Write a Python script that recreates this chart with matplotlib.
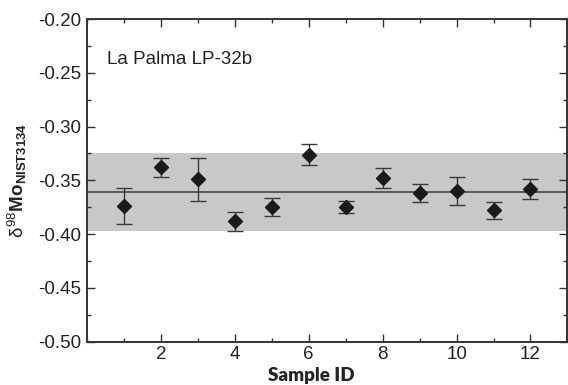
import matplotlib.pyplot as plt
from matplotlib.ticker import MultipleLocator, FixedLocator

# data
sample_id = [1, 2, 3, 4, 5, 6, 7, 8, 9, 10, 11, 12]
d98mo = [-0.374, -0.338, -0.349, -0.388, -0.375, -0.326, -0.375, -0.348, -0.362, -0.360, -0.378, -0.358]
err = [0.017, 0.0085, 0.020, 0.009, 0.0085, 0.010, 0.0055, 0.0095, 0.0085, 0.013, 0.0078, 0.009]
x_ticks = [2, 4, 6, 8, 10, 12]
mean_val = -0.361
band_lo = -0.397
band_hi = -0.325

plt.rcParams['font.family'] = ['Liberation Sans', 'DejaVu Sans']
plt.rcParams['mathtext.fontset'] = 'custom'
plt.rcParams['mathtext.rm'] = 'Liberation Sans'
plt.rcParams['mathtext.it'] = 'Liberation Sans'
plt.rcParams['mathtext.bf'] = 'Liberation Sans:bold'

fig = plt.figure(figsize=(5.68, 3.85), dpi=100)
ax = fig.add_axes([0.1532, 0.1125, 0.8458, 0.8381])

ax.axhspan(band_lo, band_hi, color='#c8c8c8', lw=0, zorder=0)
ax.axhline(mean_val, color='#505050', lw=1.3, zorder=1)
ax.errorbar(sample_id, d98mo, yerr=err, fmt='D', ms=7.5, color='#1a1a1a',
            ecolor='#3a3a3a', elinewidth=1.0, capsize=6, capthick=1.0, zorder=3)

ax.text(0.54, -0.238, 'La Palma LP-32b', fontsize=13.5, va='center', ha='left', color='#222222')

ax.set_xlim(0, 13)
ax.set_ylim(-0.50, -0.20)
ax.xaxis.set_major_locator(FixedLocator(x_ticks))
ax.xaxis.set_minor_locator(MultipleLocator(1))
ax.yaxis.set_major_locator(MultipleLocator(0.05))
ax.yaxis.set_minor_locator(MultipleLocator(0.025))
ax.yaxis.set_major_formatter(plt.FormatStrFormatter('%.2f'))
ax.tick_params(which='both', direction='in', top=True, right=True, width=1.0, color='#333333')
ax.tick_params(which='major', length=6, labelsize=13.5, labelcolor='#222222')
ax.tick_params(which='minor', length=3)
ax.tick_params(axis='y', pad=4)
ax.tick_params(axis='x', pad=3)
for s in ax.spines.values():
    s.set_linewidth(1.4)
    s.set_color('#333333')

fig.text(311 / 568, 0.003, 'Sample ID', fontsize=13.5, fontweight='heavy', family='Lato',
         ha='center', va='bottom', color='#222222')
fig.text(17 / 568, 0.53, r'$\delta^{98}\mathbf{Mo}_{\mathbf{NIST3134}}$', fontsize=13.5, rotation=90,
         ha='center', va='center', color='#222222')

fig.savefig('out.png', dpi=100)
